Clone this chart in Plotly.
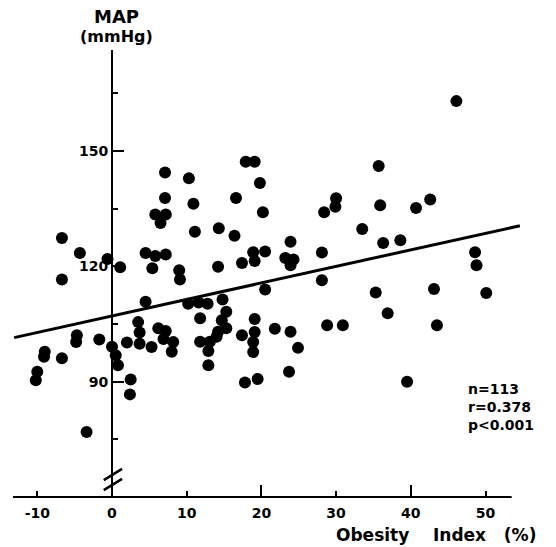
import plotly.graph_objects as go

# Obesity index (%) and mean arterial pressure (mmHg)
obesity_index = [
    -6.7, -4.3, -0.6, -6.7, -4.7, -4.8, -1.7, -9.0, -9.1, -6.7,
    -10.0, -10.2, -3.4, 0.0, 0.5, 0.8, 1.1, 2.5, 2.4, 2.0,
    3.7, 3.5, 3.7, 5.3, 6.2, 7.2, 6.9, 8.2, 8.0, 4.5,
    4.5, 5.8, 7.2, 5.4, 9.0, 9.1, 5.8, 7.2, 6.5, 7.1,
    7.1, 10.3, 10.9, 11.1, 10.2, 11.6, 12.8, 11.8, 11.8, 12.9,
    12.9, 14.8, 15.3, 14.7, 15.3, 14.2, 14.0, 13.1, 14.3, 16.4,
    16.6, 14.2, 17.4, 17.4, 17.8, 17.9, 19.1, 19.8, 20.2, 18.9,
    20.5, 19.1, 19.1, 19.1, 18.9, 18.9, 19.5, 20.5, 21.8, 23.2,
    24.3, 23.9, 23.9, 23.9, 24.9, 23.7, 28.1, 28.1, 28.4, 30.0,
    29.9, 28.8, 30.9, 33.5, 35.7, 35.9, 36.3, 38.6, 35.3, 36.9,
    39.5, 40.7, 42.6, 43.1, 43.5, 46.1, 48.6, 48.8, 50.1,
]
map_mmhg = [
    127.4, 123.5, 121.9, 116.6, 102.1, 100.3, 101.0, 97.8, 96.5, 96.1,
    92.6, 90.4, 76.9, 99.1, 96.9, 94.3, 119.8, 90.6, 86.7, 100.2,
    99.9, 105.5, 102.8, 99.0, 103.9, 103.2, 101.1, 100.3, 97.8, 110.8,
    123.5, 122.7, 123.1, 119.5, 119.0, 116.6, 133.5, 133.5, 131.3, 144.4,
    137.8, 142.9, 136.3, 129.0, 110.3, 110.6, 110.3, 106.5, 100.4, 98.0,
    94.3, 111.4, 108.2, 106.0, 103.9, 103.0, 101.7, 100.4, 129.9, 128.0,
    137.8, 119.9, 120.9, 102.1, 89.8, 147.2, 147.2, 141.7, 134.1, 123.7,
    123.9, 121.4, 106.3, 102.9, 100.3, 97.7, 90.7, 114.0, 103.8, 122.2,
    121.8, 120.3, 126.4, 103.0, 98.8, 92.6, 123.6, 116.4, 134.1, 137.7,
    135.5, 104.7, 104.7, 129.7, 146.1, 135.9, 126.1, 126.8, 113.2, 107.8,
    90.0, 135.2, 137.4, 114.1, 104.7, 163.0, 123.7, 120.3, 113.1,
]

# Regression line
reg_intercept = 107.1
reg_slope = 0.43
reg_x = [-13.1, 54.6]
reg_y = [reg_intercept + reg_slope * v for v in reg_x]

# Axis ticks
x_tickvals = [-10, 0, 10, 20, 30, 40, 50]
x_ticktext = ["-10", "0", "10", "20", "30", "40", "50"]
x_long_ticks = [20, 40]
y_tickvals = [90, 120, 150]
y_ticktext = ["90", "120", "150"]
y_minor_ticks = [75, 105, 135, 165]

stats_text = ["n=113", "r=0.378", "p<0.001"]

X_RANGE = [-13.25, 54.75]
Y_RANGE = [60.0, 176.3]
FONT = "DejaVu Sans"

fig = go.Figure()
fig.add_trace(go.Scatter(
    x=reg_x, y=reg_y, mode="lines",
    line=dict(color="black", width=3), hoverinfo="skip", showlegend=False,
))
fig.add_trace(go.Scatter(
    x=obesity_index, y=map_mmhg, mode="markers",
    marker=dict(color="black", size=12, line=dict(width=0)),
    showlegend=False,
))
# empty trace to carry the overlay axis with the longer ticks
fig.add_trace(go.Scatter(x=[], y=[], xaxis="x2", showlegend=False))

tickfont = dict(family=FONT, size=14, color="black", weight="bold")

fig.update_layout(
    width=556, height=547,
    margin=dict(l=13, r=35, t=50, b=50),
    paper_bgcolor="white", plot_bgcolor="white",
    showlegend=False,
    xaxis=dict(
        range=X_RANGE, showgrid=False, zeroline=False, showline=False,
        tickmode="array", tickvals=x_tickvals, ticktext=x_ticktext,
        ticks="inside", ticklen=6, tickwidth=2, tickcolor="black",
        tickfont=tickfont, ticklabelstandoff=6,
    ),
    xaxis2=dict(
        range=X_RANGE, overlaying="x", anchor="y", side="bottom",
        showgrid=False, zeroline=False, showline=False, showticklabels=False,
        tickmode="array", tickvals=x_long_ticks,
        ticks="inside", ticklen=12, tickwidth=2, tickcolor="black",
    ),
    yaxis=dict(
        range=Y_RANGE, showgrid=False, zeroline=False,
        anchor="free", position=0.1949,
        showline=True, linecolor="black", linewidth=2,
        tickmode="array", tickvals=y_tickvals, ticktext=y_ticktext,
        ticks="inside", ticklen=11, tickwidth=2, tickcolor="black",
        minor=dict(tickmode="array", tickvals=y_minor_ticks, ticks="inside",
                   ticklen=5, tickwidth=2, tickcolor="black"),
        tickfont=tickfont,
    ),
    shapes=[
        # x axis line
        dict(type="line", xref="x", yref="paper", x0=-13.25, x1=53.5, y0=0, y1=0,
             line=dict(color="black", width=2)),
        # axis break marks
        dict(type="line", xref="x", yref="y", x0=-1.1, y0=64.4, x1=1.35, y1=67.3,
             line=dict(color="black", width=2.5)),
        dict(type="line", xref="x", yref="y", x0=-1.1, y0=61.8, x1=1.35, y1=64.7,
             line=dict(color="black", width=2.5)),
    ],
    annotations=[
        dict(text="MAP", xref="paper", yref="paper", x=0.2028, y=1.0745,
             xanchor="center", yanchor="middle", showarrow=False,
             font=dict(family=FONT, size=18, color="black", weight="bold")),
        dict(text="(mmHg)", xref="paper", yref="paper", x=0.2028, y=1.0298,
             xanchor="center", yanchor="middle", showarrow=False,
             font=dict(family=FONT, size=16, color="black", weight="bold")),
        dict(text="Obesity\u00a0\u00a0\u00a0\u00a0Index\u00a0\u00a0\u00a0(%)",
             xref="paper", yref="paper", x=1.0335, y=-0.085,
             xanchor="right", yanchor="middle", showarrow=False,
             font=dict(family=FONT, size=17, color="black", weight="bold")),
        dict(text="<br>".join(stats_text), xref="paper", yref="paper",
             x=0.8917, y=0.2013, xanchor="left", yanchor="middle", align="left",
             showarrow=False,
             font=dict(family=FONT, size=14, color="black", weight="bold")),
    ],
)

fig.write_html("out.html")
